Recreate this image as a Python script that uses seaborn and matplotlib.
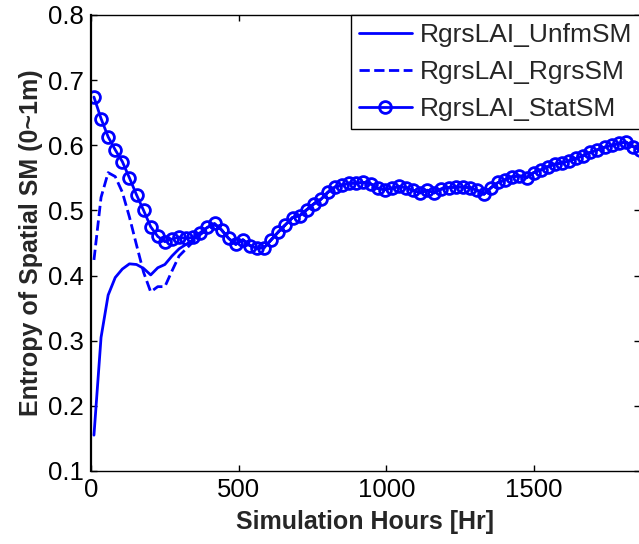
import numpy as np
import pandas as pd
import matplotlib
matplotlib.use("Agg")
import matplotlib.pyplot as plt
import seaborn as sns

sns.set_style("white")
plt.rcParams['font.family'] = ['Liberation Sans', 'DejaVu Sans']

hours = [10 + 24 * i for i in range(78)]

stat_sm = [0.674, 0.641, 0.613, 0.593, 0.575, 0.550, 0.524, 0.500, 0.475, 0.460,
           0.452, 0.456, 0.459, 0.457, 0.459, 0.466, 0.474, 0.480, 0.470, 0.457,
           0.448, 0.455, 0.446, 0.442, 0.443, 0.455, 0.467, 0.478, 0.489, 0.492,
           0.501, 0.510, 0.517, 0.528, 0.536, 0.539, 0.542, 0.542, 0.543, 0.541,
           0.534, 0.532, 0.534, 0.537, 0.535, 0.531, 0.527, 0.531, 0.527, 0.533,
           0.535, 0.536, 0.536, 0.535, 0.531, 0.525, 0.535, 0.543, 0.547, 0.552,
           0.553, 0.550, 0.558, 0.562, 0.567, 0.571, 0.573, 0.576, 0.580, 0.584,
           0.589, 0.593, 0.597, 0.600, 0.603, 0.605, 0.598, 0.593]

unfm_sm = [0.155, 0.305, 0.370, 0.397, 0.410, 0.418, 0.417, 0.411, 0.401, 0.412,
           0.417, 0.430, 0.441, 0.448, 0.455, 0.465, 0.474, 0.479, 0.470, 0.457,
           0.448, 0.455, 0.446, 0.442, 0.443, 0.455, 0.467, 0.478, 0.489, 0.492,
           0.501, 0.510, 0.517, 0.528, 0.536, 0.539, 0.542, 0.542, 0.543, 0.541,
           0.534, 0.532, 0.534, 0.537, 0.535, 0.531, 0.527, 0.531, 0.527, 0.533,
           0.535, 0.536, 0.536, 0.535, 0.531, 0.525, 0.535, 0.543, 0.547, 0.552,
           0.553, 0.550, 0.558, 0.562, 0.567, 0.571, 0.573, 0.576, 0.580, 0.584,
           0.589, 0.593, 0.597, 0.600, 0.603, 0.605, 0.598, 0.593]

rgrs_sm = [0.424, 0.520, 0.558, 0.552, 0.528, 0.490, 0.447, 0.405, 0.375, 0.383,
           0.383, 0.407, 0.430, 0.441, 0.452, 0.463, 0.471, 0.479, 0.470, 0.457,
           0.448, 0.455, 0.446, 0.442, 0.443, 0.455, 0.467, 0.478, 0.489, 0.492,
           0.501, 0.510, 0.517, 0.528, 0.536, 0.539, 0.542, 0.542, 0.543, 0.541,
           0.534, 0.532, 0.534, 0.537, 0.535, 0.531, 0.527, 0.531, 0.527, 0.533,
           0.535, 0.536, 0.536, 0.535, 0.531, 0.525, 0.535, 0.543, 0.547, 0.552,
           0.553, 0.550, 0.558, 0.562, 0.567, 0.571, 0.573, 0.576, 0.580, 0.584,
           0.589, 0.593, 0.597, 0.600, 0.603, 0.605, 0.598, 0.593]

labels = ["RgrsLAI_UnfmSM", "RgrsLAI_RgrsSM", "RgrsLAI_StatSM"]
x_ticks = [0, 500, 1000, 1500]
y_ticks = [0.1, 0.2, 0.3, 0.4, 0.5, 0.6, 0.7, 0.8]

fig = plt.figure(figsize=(6.39, 5.44), dpi=100)
ax = fig.add_axes([91 / 639, 73 / 544, (640 - 91) / 639, (471 - 15) / 544])

blue = "#0000ff"
sns.lineplot(x=hours, y=unfm_sm, ax=ax, color=blue, lw=2, label=labels[0])
sns.lineplot(x=hours, y=rgrs_sm, ax=ax, color=blue, lw=2, linestyle="--",
             dashes=(3, 2), label=labels[1])
sns.lineplot(x=hours, y=stat_sm, ax=ax, color=blue, lw=2, marker="o",
             markersize=8.5, markerfacecolor="none", markeredgecolor=blue,
             markeredgewidth=2, label=labels[2])

ax.set_xlim(0, 1858)
ax.set_ylim(0.1, 0.8)
ax.set_xticks(x_ticks)
ax.set_yticks(y_ticks)
ax.set_yticklabels([f"{v:.1f}" for v in y_ticks])
ax.tick_params(direction="in", length=4, width=1, labelsize=18.5,
               top=True, right=True, bottom=True, left=True, pad=5, colors="black")
for s in ax.spines.values():
    s.set_color("black")
    s.set_linewidth(1.0)
ax.spines["left"].set_linewidth(1.6)

ax.set_xlabel("Simulation Hours [Hr]", fontsize=18, fontweight="bold", labelpad=6)
ax.set_ylabel("Entropy of Spatial SM (0~1m)", fontsize=18, fontweight="bold", labelpad=4)

leg = ax.legend(loc="upper right", bbox_to_anchor=(1.0, 1.0), borderaxespad=0,
                fontsize=19, frameon=True, fancybox=False, framealpha=1,
                edgecolor="black", handlelength=2.0, handletextpad=0.3,
                borderpad=0.3, labelspacing=0.5)
leg.get_frame().set_linewidth(1.0)

fig.savefig("out.png", dpi=100, facecolor="white")
